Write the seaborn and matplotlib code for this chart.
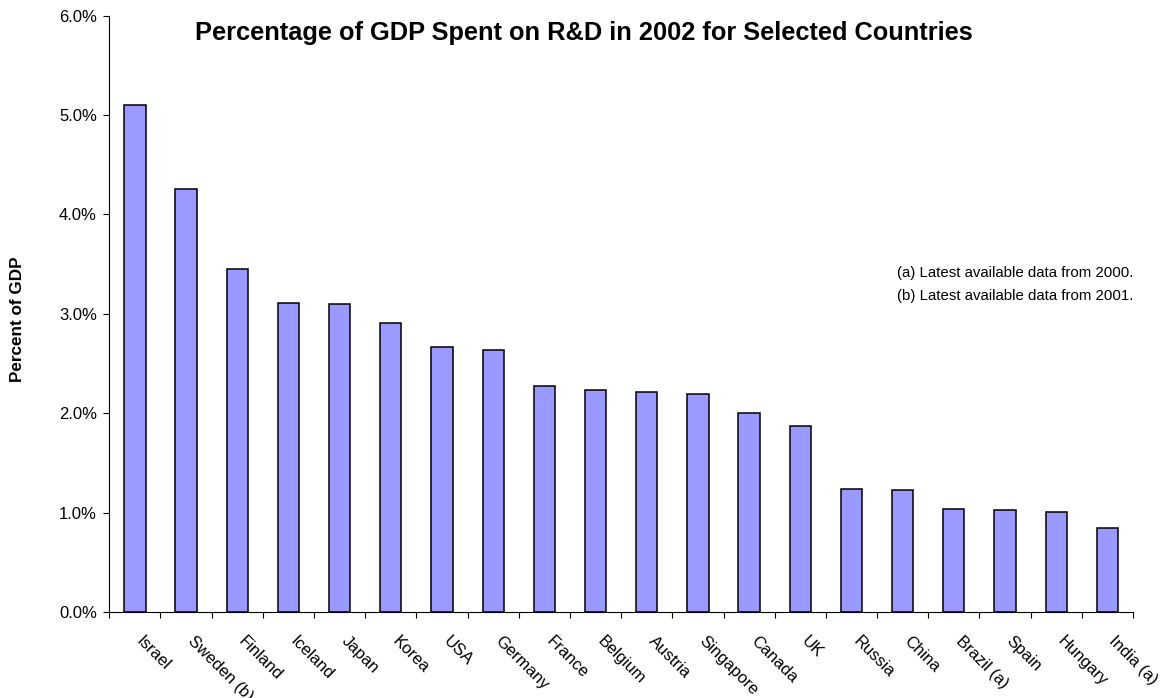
import matplotlib
matplotlib.use("Agg")
import matplotlib.pyplot as plt
import matplotlib.transforms as mtransforms
import seaborn as sns
import numpy as np
import pandas as pd
from matplotlib.ticker import FuncFormatter

countries = ["Israel", "Sweden (b)", "Finland", "Iceland", "Japan", "Korea", "USA",
             "Germany", "France", "Belgium", "Austria", "Singapore", "Canada", "UK",
             "Russia", "China", "Brazil (a)", "Spain", "Hungary", "India (a)"]
rd_pct = [5.10, 4.26, 3.45, 3.11, 3.10, 2.91, 2.67, 2.64, 2.27, 2.23, 2.21, 2.19,
          2.00, 1.87, 1.24, 1.23, 1.04, 1.03, 1.01, 0.85]
y_ticks = [0, 1, 2, 3, 4, 5, 6]

title = "Percentage of GDP Spent on R&D in 2002 for Selected Countries"
y_label = "Percent of GDP"
notes = ["(a) Latest available data from 2000.", "(b) Latest available data from 2001."]

sns.set_theme(style="white")
plt.rcParams["font.family"] = ["Liberation Sans", "DejaVu Sans"]
plt.rcParams["text.color"] = "black"
plt.rcParams["xtick.color"] = "black"
plt.rcParams["ytick.color"] = "black"
plt.rcParams["axes.labelcolor"] = "black"

df = pd.DataFrame({"country": countries, "pct": rd_pct})

fig = plt.figure(figsize=(11.68, 6.98), dpi=100)
ax = fig.add_axes([109.3 / 1168, 1 - 612 / 698, (1133 - 109.3) / 1168, (612 - 15.7) / 698])

sns.barplot(data=df, x="country", y="pct", order=countries, color="#9999FF",
            saturation=1, edgecolor="black", linewidth=1.1, width=0.415, ax=ax)

ax.set_xlim(-0.5, len(countries) - 0.5)
ax.set_ylim(0, 6)
ax.set_yticks(y_ticks)
ax.yaxis.set_major_formatter(FuncFormatter(lambda v, p: f"{v:.1f}%"))
ax.tick_params(axis="y", direction="out", length=4, width=0.8, color="black",
               labelcolor="black", labelsize=12, pad=5, left=True)

# boundary ticks (major) and centered labels (minor)
ax.set_xticks(np.arange(-0.5, len(countries), 1.0))
ax.set_xticklabels([])
ax.set_xticks(np.arange(len(countries)), labels=countries, minor=True)
ax.tick_params(axis="x", which="major", direction="out", length=4, width=0.8,
               color="black", bottom=True)
ax.tick_params(axis="x", which="minor", length=0, labelsize=12, pad=19,
               labelcolor="black")
offset = mtransforms.ScaledTranslation(4 / 100, 0, fig.dpi_scale_trans)
for lbl in ax.get_xticklabels(minor=True):
    lbl.set_rotation(-45)
    lbl.set_rotation_mode("anchor")
    lbl.set_ha("left")
    lbl.set_va("center")
    lbl.set_transform(lbl.get_transform() + offset)

ax.set_xlabel("")
ax.set_ylabel("")
for s in ["top", "right"]:
    ax.spines[s].set_visible(False)
for s in ["left", "bottom"]:
    ax.spines[s].set_color("black")
    ax.spines[s].set_linewidth(0.8)
ax.grid(False)

fig.text(0.5, 1 - 40 / 698, title, ha="center", va="baseline",
         fontsize=18.3, fontweight="bold", color="black")
fig.text(18 / 1168, 1 - 319 / 698, y_label, rotation=90, ha="center", va="center",
         fontsize=12.3, fontweight="bold", color="black")
fig.text(1133 / 1168, 1 - 277 / 698, notes[0], ha="right", va="baseline",
         fontsize=10.8, color="black")
fig.text(1133 / 1168, 1 - 300 / 698, notes[1], ha="right", va="baseline",
         fontsize=10.8, color="black")

fig.savefig("out.png", dpi=100)
